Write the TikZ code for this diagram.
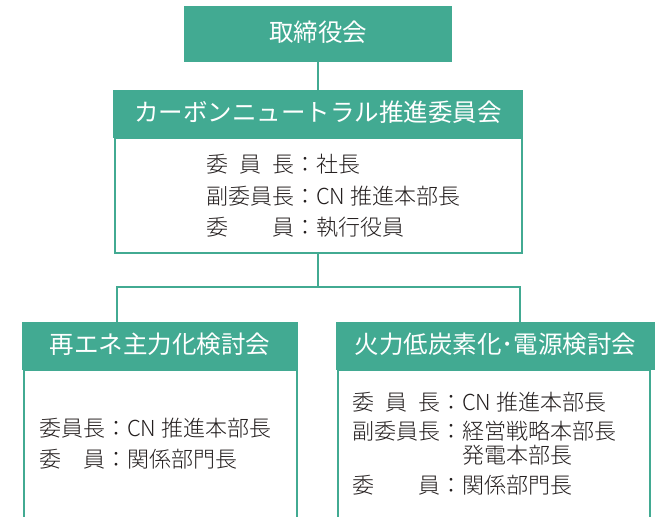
\documentclass[tikz,border=0pt]{standalone}
\usepackage{fontspec}
\setmainfont{Noto Sans CJK JP}
\IfFontExistsTF{Noto Sans CJK JP Light}
  {\newfontfamily\bodyfont{Noto Sans CJK JP Light}}
  {\newfontfamily\bodyfont{Noto Sans CJK JP}}
\definecolor{hdrgreen}{RGB}{66,170,146}
\definecolor{bodytext}{RGB}{35,30,30}
\begin{document}
\begin{tikzpicture}[x=1pt,y=-1pt,
  hdr/.style={fill=hdrgreen, draw=none, text=white, font=\fontsize{24.5}{24.5}\selectfont,
    inner sep=0pt, outer sep=0pt, text height=1.5em, text depth=0.04em, anchor=north west},
  bodybox/.style={draw=hdrgreen, line width=2pt, fill=none, inner sep=0pt, outer sep=0pt, anchor=north west},
  conn/.style={draw=hdrgreen, line width=2.5pt},
  txt/.style={anchor=west, inner sep=0pt, outer sep=0pt, text height=0.88em, text depth=0.12em,
    font=\bodyfont\fontsize{22}{22}\selectfont, text=bodytext, yshift=-5pt}]
\clip (0,0) rectangle (655,516);
\fill[white] (0,0) rectangle (655,516);

% boxes
\node[hdr, minimum width=268, minimum height=56] (board) at (184,6) {取締役会};
\node[hdr, minimum width=410, minimum height=48] (cnhead) at (113,90) {カーボンニュートラル推進委員会};
\node[bodybox, minimum width=407, minimum height=114.5] (cnbody) at (114.5,138) {};

\node[hdr, minimum width=276, minimum height=48] (rehead) at (22,322) {再エネ主力化検討会};
\node[bodybox, minimum width=273.5, minimum height=160] (rebody) at (23.5,370) {};

\node[hdr, minimum width=319, minimum height=48] (fhead) at (336,322) {火力低炭素化･電源検討会};
\node[bodybox, minimum width=312, minimum height=160] (fbody) at (337.5,370) {};

% connectors
\coordinate (split) at (318,287);
\coordinate (jl) at (117,287);
\coordinate (jr) at (520,287);
\draw[conn] (board.south) -- (cnhead.north);
\draw[conn] (cnbody.south) -- (split);
\draw[conn] (jl |- rehead.north) -- (jl) -- (jr) -- (jr |- fhead.north);

% texts: CN committee
\node[txt] (m1) at (206,164) {\makebox[4em][l]{委\hfill 員\hfill 長}：社長};
\node[txt] (m2) at (206,196) {\makebox[4em][l]{副委員長}：CN 推進本部長};
\node[txt] (m3) at (206,227) {\makebox[4em][l]{委\hfill 員}：執行役員};

% texts: renewable
\node[txt] (l1) at (39,428) {\makebox[3em][l]{委員長}：CN 推進本部長};
\node[txt] (l2) at (39,459) {\makebox[3em][l]{委\hfill 員}：関係部門長};

% texts: thermal
\node[txt] (r1) at (352,402) {\makebox[4em][l]{委\hfill 員\hfill 長}：CN 推進本部長};
\node[txt] (r2) at (352,431) {\makebox[4em][l]{副委員長}：経営戦略本部長};
\node[txt] (r3) at (462,455) {発電本部長};
\node[txt] (r4) at (352,485) {\makebox[4em][l]{委\hfill 員}：関係部門長};
\end{tikzpicture}
\end{document}
